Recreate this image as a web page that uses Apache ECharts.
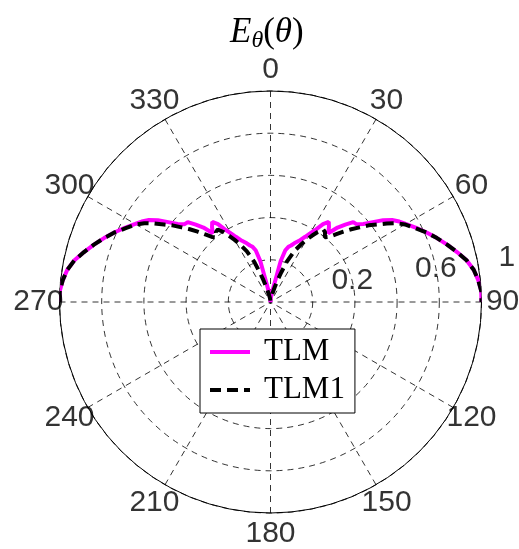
<!DOCTYPE html>
<html>
<head>
<meta charset="utf-8">
<script src="https://cdn.jsdelivr.net/npm/echarts@6/dist/echarts.min.js"></script>
<style>
html,body{margin:0;padding:0;background:#fff;}
#chart{width:519px;height:549px;}
</style>
</head>
<body>
<div id="chart"></div>
<script>
// Angles in degrees (0 at top, clockwise)
const angles = [270, 273, 276, 279, 282, 285, 288, 291, 294, 297, 300, 302, 304, 306, 308, 310, 312, 314, 316, 318, 320, 322, 324, 326, 328, 330, 332, 335, 338, 340, 342, 344, 346, 348, 352, 356,
  0,
  4, 8, 12, 14, 16, 18, 20, 22, 25, 28, 30, 32, 34, 36, 38, 40, 42, 44, 46, 48, 50, 52, 54, 56, 58, 60, 63, 66, 69, 72, 75, 78, 81, 84, 87, 90];

const tlm = [1.0, 1.0, 0.99, 0.975, 0.95, 0.915, 0.88, 0.845, 0.81, 0.775, 0.74, 0.72, 0.695, 0.66, 0.615, 0.575, 0.55, 0.545, 0.51, 0.475, 0.425, 0.45, 0.47, 0.445, 0.405, 0.375, 0.35, 0.32, 0.30, 0.285, 0.275, 0.255, 0.20, 0.09, 0.04, 0.015,
  0,
  0.015, 0.04, 0.09, 0.20, 0.255, 0.275, 0.285, 0.30, 0.32, 0.35, 0.375, 0.405, 0.445, 0.47, 0.45, 0.425, 0.475, 0.51, 0.545, 0.55, 0.575, 0.615, 0.66, 0.695, 0.72, 0.74, 0.775, 0.81, 0.845, 0.88, 0.915, 0.95, 0.975, 0.99, 1.0, 1.0];

const tlm1 = [1.0, 1.0, 0.99, 0.975, 0.95, 0.915, 0.88, 0.845, 0.81, 0.77, 0.735, 0.705, 0.665, 0.625, 0.59, 0.55, 0.515, 0.48, 0.445, 0.415, 0.40, 0.42, 0.425, 0.40, 0.37, 0.34, 0.31, 0.265, 0.205, 0.15, 0.11, 0.075, 0.05, 0.035, 0.02, 0.008,
  0,
  0.008, 0.02, 0.035, 0.05, 0.075, 0.11, 0.15, 0.205, 0.265, 0.31, 0.34, 0.37, 0.40, 0.425, 0.42, 0.40, 0.415, 0.445, 0.48, 0.515, 0.55, 0.59, 0.625, 0.665, 0.705, 0.735, 0.77, 0.81, 0.845, 0.88, 0.915, 0.95, 0.975, 0.99, 1.0, 1.0];

const angleTicks = [0, 30, 60, 90, 120, 150, 180, 210, 240, 270, 300, 330];
const angleTickLabels = ['0', '30', '60', '90', '120', '150', '180', '210', '240', '270', '300', '330'];
const radiusTicks = [0.2, 0.6, 1];
const radiusTickLabels = ['0.2', '0.6', '1'];

const angleLabelRadius = 1.1;
const radiusLabelAngle = 82;

const chart = echarts.init(document.getElementById('chart'), null, {renderer: 'canvas'});

const sansFont = '"Liberation Sans", Arial, Helvetica, sans-serif';
const serifFont = '"Liberation Serif", "Times New Roman", Times, serif';

const hiddenItem = {color: 'rgba(0,0,0,0)', borderWidth: 0};

const option = {
  backgroundColor: '#ffffff',
  animation: false,
  title: {
    text: '{a|E}{b|θ}{c|(}{a|θ}{c|)}',
    left: 225,
    top: 9,
    textStyle: {
      fontWeight: 'normal',
      rich: {
        a: {fontFamily: serifFont, fontStyle: 'italic', fontWeight: 'normal', fontSize: 35, color: '#000', lineHeight: 38},
        b: {fontFamily: serifFont, fontStyle: 'italic', fontWeight: 'normal', fontSize: 24, color: '#000', padding: [16, 0, 0, 0], lineHeight: 38},
        c: {fontFamily: serifFont, fontWeight: 'normal', fontSize: 35, color: '#000', lineHeight: 38}
      }
    }
  },
  legend: {
    data: ['TLM', 'TLM1'],
    orient: 'vertical',
    left: 200,
    top: 329,
    padding: [5, 10, 5, 8],
    itemGap: 2,
    itemWidth: 40,
    itemHeight: 14,
    backgroundColor: '#ffffff',
    borderColor: '#000000',
    borderWidth: 1,
    borderRadius: 0,
    itemStyle: {color: 'rgba(0,0,0,0)', borderWidth: 0, opacity: 0},
    lineStyle: {width: 4},
    textStyle: {
      fontFamily: serifFont,
      fontSize: 31,
      color: '#000',
      lineHeight: 36,
      padding: [0, 0, 0, 9]
    }
  },
  polar: {
    center: [270.5, 302],
    radius: 211
  },
  angleAxis: {
    type: 'value',
    min: 0,
    max: 360,
    interval: 30,
    startAngle: 90,
    clockwise: true,
    axisLine: {show: true, lineStyle: {color: '#000', width: 1}},
    axisTick: {show: false},
    axisLabel: {show: false},
    splitLine: {show: true, lineStyle: {color: '#000', width: 0.8, type: [6, 5]}}
  },
  radiusAxis: {
    type: 'value',
    min: 0,
    max: 1,
    interval: 0.2,
    axisLine: {show: false},
    axisTick: {show: false},
    axisLabel: {show: false},
    splitLine: {show: true, lineStyle: {color: '#000', width: 0.8, type: [6, 5]}}
  },
  series: [
    {
      name: 'TLM',
      type: 'line',
      coordinateSystem: 'polar',
      symbol: 'none',
      smooth: false,
      lineStyle: {color: '#ff00ff', width: 4},
      itemStyle: {color: '#ff00ff'},
      data: angles.map((a, i) => [tlm[i], a]),
      z: 3
    },
    {
      name: 'TLM1',
      type: 'line',
      coordinateSystem: 'polar',
      symbol: 'none',
      smooth: false,
      lineStyle: {color: '#000000', width: 4, type: [11, 6]},
      itemStyle: {color: '#000000'},
      data: angles.map((a, i) => [tlm1[i], a]),
      z: 4
    },
    {
      name: 'angleLabels',
      type: 'scatter',
      coordinateSystem: 'polar',
      clip: false,
      silent: true,
      symbolSize: 1,
      itemStyle: hiddenItem,
      label: {
        show: true,
        position: 'inside',
        align: 'center',
        verticalAlign: 'middle',
        fontFamily: sansFont,
        fontSize: 30,
        color: '#000',
        textBorderWidth: 0,
        formatter: (p) => angleTickLabels[p.dataIndex]
      },
      data: angleTicks.map(a => [angleLabelRadius, a]),
      z: 5
    },
    {
      name: 'radiusLabels',
      type: 'scatter',
      coordinateSystem: 'polar',
      clip: false,
      silent: true,
      symbolSize: 1,
      itemStyle: hiddenItem,
      label: {
        show: true,
        position: 'inside',
        align: 'left',
        verticalAlign: 'bottom',
        offset: [17, 0],
        fontFamily: sansFont,
        fontSize: 30,
        color: '#000',
        textBorderWidth: 0,
        formatter: (p) => radiusTickLabels[p.dataIndex]
      },
      data: radiusTicks.map(r => [r + 0.01, radiusLabelAngle]),
      z: 2
    }
  ]
};

chart.setOption(option);
</script>
</body>
</html>
